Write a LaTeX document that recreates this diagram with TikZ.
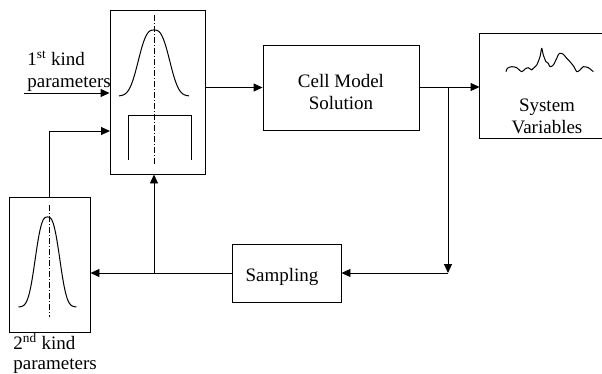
\documentclass[tikz,border=0pt]{standalone}
\usepackage{fontspec}
\setmainfont{Liberation Serif}
\usetikzlibrary{arrows.meta}
\begin{document}
\begin{tikzpicture}[x=1pt,y=-1pt,line width=0.9pt,
  box/.style={draw,minimum width=#1,inner sep=0pt},
  arr/.style={-{Triangle[length=9pt,width=8pt]}},
  lbl/.style={font=\fontsize{19}{22}\selectfont,inner sep=0pt},
  axisline/.style={line width=0.6pt,dash pattern=on 6pt off 2pt on 1pt off 2pt},
  curve/.style={line width=1pt}]
\useasboundingbox (0,0) rectangle (602,373);

% boxes
\node[box=95pt,minimum height=164pt] (dist1) at (157.5,92) {};
\node[box=156pt,minimum height=85pt] (cell) at (341,87.5) {};
\node[box=109pt,minimum height=58pt] (samp) at (286.5,273) {};
\node[box=81pt,minimum height=135pt] (dist2) at (49.5,264.5) {};
\node[minimum width=122pt,minimum height=104pt,inner sep=0pt] (sys) at (541,86) {};
\draw (sys.north east) -- (sys.north west) -- (sys.south west) -- (sys.south east);

% box contents
\node[lbl,align=center] (celltxt) at (341,92) {Cell Model\\Solution};
\node[lbl,align=center] (systxt) at (547,116) {System\\Variables};
\node[lbl] (samptxt) at (282,277) {Sampling};

% noisy trace of the system variables
\draw[curve,line join=round] plot[smooth,tension=0.5] coordinates {
  (506,71.7) (507.3,68.3) (511.7,66.7) (516.7,67.7) (521.7,71.7) (525,69)
  (528.3,67.7) (531.7,70) (533.3,68.3) (536.7,65) (540,56.7) (541.7,48.3)
  (543.3,55) (546,61.7) (548.3,63.3) (550,66.7) (553.3,65) (556.7,58.3)
  (559.3,53.3) (563.3,54.3) (566.7,58.3) (570,61.7) (574,66.7) (576.7,71.7)
  (580,70) (583.3,66.7) (588.3,67.7) (593.3,71.7)};

% first distribution box: bell curve, bracket and axis
\draw[axisline] (154,15) -- (154,165);
\draw[curve] plot[domain=-1:1,samples=90,smooth]
  ({154+35*\x},{96-66*exp(-((abs(\x)/0.53)^2.8))});
\draw[curve] (128,160) -- (128,115) -- (191,115) -- (191,160);

% second distribution box
\draw[axisline] (49.5,205) -- (49.5,317);
\draw[curve] plot[domain=-1:1,samples=90,smooth]
  ({47.5+29*\x},{307-90*exp(-((abs(\x)/0.5)^2.8))});

% outside labels
\node[lbl,anchor=base west] (k1a) at (27,65) {1\textsuperscript{st} kind};
\node[lbl,anchor=base west] (k1b) at (27,87) {parameters};
\node[lbl,anchor=base west] (k2a) at (13,349) {2\textsuperscript{nd} kind};
\node[lbl,anchor=base west] (k2b) at (13,369) {parameters};

% connectors
\coordinate (in1) at (24,93);
\coordinate (in2) at (110,131);
\coordinate (j1) at (448,87);
\coordinate (j2) at (448,273);
\coordinate (j3) at (154,273);
\draw[arr] (in1) -- (in1 -| dist1.west);
\draw[arr] (dist2.north) |- (in2);
\draw[arr] (dist1.east |- cell.west) -- (cell.west);
\draw[arr] (cell.east |- j1) -- (j1 -| sys.west);
\draw[arr] (j1) -- (j2);
\draw[arr] (j2) -- (samp.east);
\draw[arr] (samp.west) -- (dist2.east |- samp.west);
\draw[arr] (j3) -- (j3 |- dist1.south);
\end{tikzpicture}
\end{document}
